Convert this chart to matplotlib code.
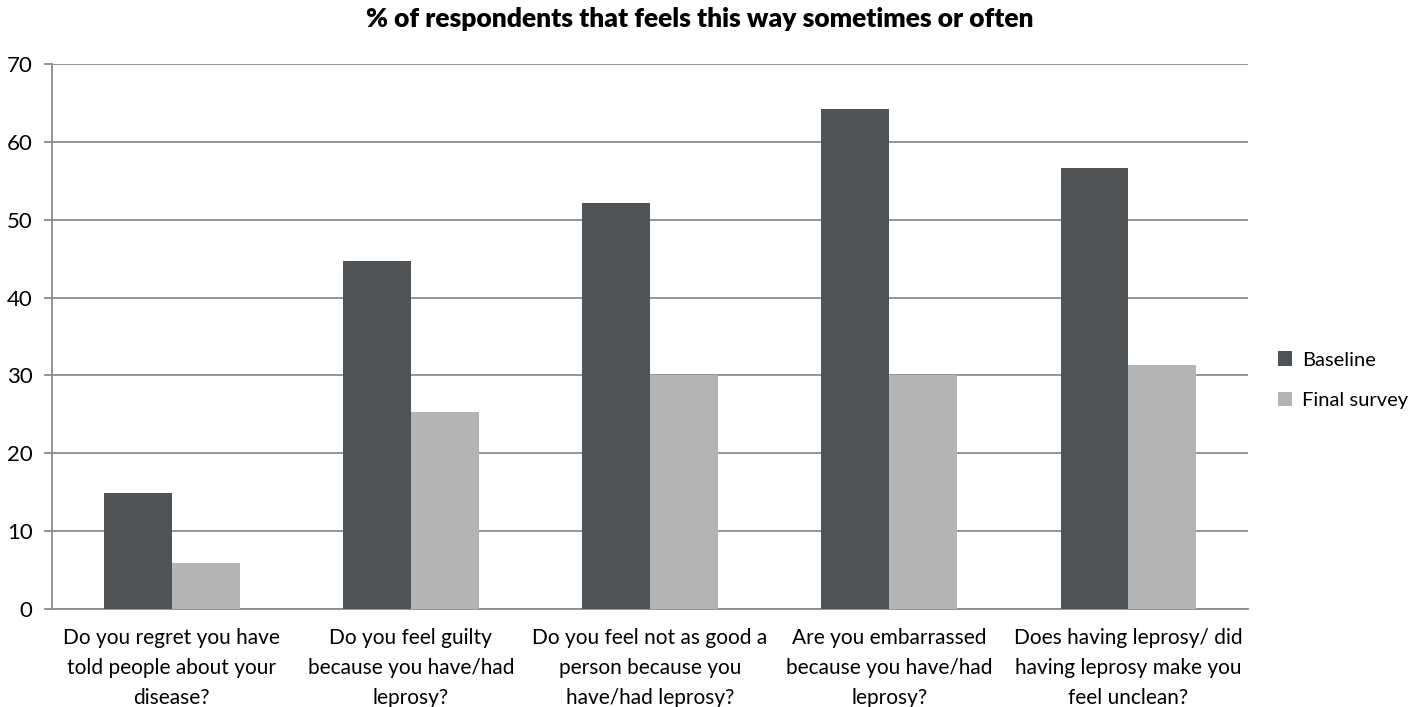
import numpy as np
import matplotlib.pyplot as plt

plt.rcParams['font.family'] = ['Lato', 'DejaVu Sans']

# Data
categories = [
    'Do you regret you have\ntold people about your\ndisease?',
    'Do you feel guilty\nbecause you have/had\nleprosy?',
    'Do you feel not as good a\nperson because you\nhave/had leprosy?',
    'Are you embarrassed\nbecause you have/had\nleprosy?',
    'Does having leprosy/ did\nhaving leprosy make you\nfeel unclean?',
]
baseline = [14.9, 44.7, 52.2, 64.2, 56.7]
final_survey = [5.9, 25.3, 30.0, 30.0, 31.3]

fig = plt.figure(figsize=(14.28, 7.07), dpi=100)
ax = fig.add_axes([0.0364, 0.1386, 0.8376, 0.7709])

x = np.arange(len(categories))
w = 0.284
ax.bar(x - w / 2, baseline, width=w, color='#505356', label='Baseline', zorder=3)
ax.bar(x + w / 2, final_survey, width=w, color='#b2b4b6', label='Final survey', zorder=3)

ax.set_xlim(-0.5, len(categories) - 0.5)
ax.set_ylim(0, 70)
ax.set_yticks(range(0, 71, 10))
ax.yaxis.grid(True, color='#8c8c8c', linewidth=1.3, zorder=0)
ax.set_xticks(x)
ax.set_xticklabels(categories, fontsize=15, linespacing=1.62)
ax.tick_params(axis='x', length=0, pad=14)
ax.tick_params(axis='y', length=6, width=1.3, color='#8c8c8c', labelsize=16, pad=8)

for s in ['top', 'right']:
    ax.spines[s].set_visible(False)
for s in ['left', 'bottom']:
    ax.spines[s].set_color('#8c8c8c')
    ax.spines[s].set_linewidth(1.3)

# title is centred on the figure, not the axes
fig.text(0.49, 0.99, '% of respondents that feels this way sometimes or often',
         fontsize=19, fontweight='heavy', ha='center', va='top')

ax.legend(loc='center left', bbox_to_anchor=(1.01, 0.42), frameon=False,
          fontsize=14.5, handlelength=0.7, handleheight=0.7, handletextpad=0.5,
          labelspacing=1.15)

fig.savefig('out.png', dpi=100)
